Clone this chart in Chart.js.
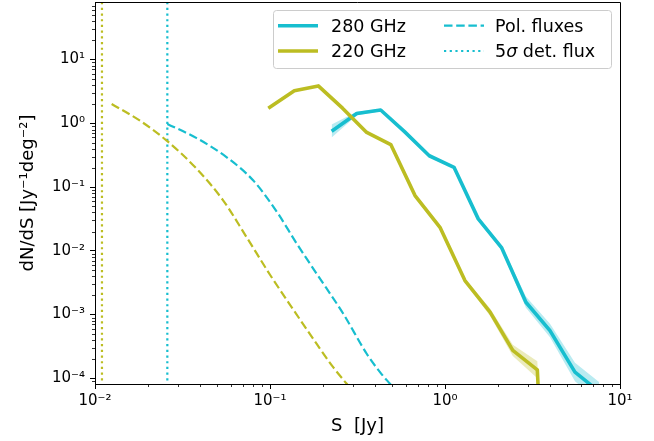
<!DOCTYPE html>
<html>
<head>
<meta charset="utf-8">
<script src="https://cdn.jsdelivr.net/npm/chart.js@4/dist/chart.umd.min.js"></script>
<style>
  html, body { margin:0; padding:0; background:#fff; }
  #wrap { width:654px; height:441px; }
</style>
</head>
<body>
<div id="wrap"><canvas id="countsChart" width="654" height="441"></canvas></div>
<script>
// ── Data ──────────────────────────────────────────────────
// 280 GHz measured counts, with shaded band
const S280    = [0.225, 0.313, 0.429, 0.587, 0.813, 1.126, 1.549, 2.11, 2.90, 3.98, 5.53, 7.59];
const N280    = [0.75, 1.43, 1.62, 0.74, 0.31, 0.204, 0.0317, 0.0111, 1.56e-3, 5.6e-4, 1.25e-4, 6.2e-5];
const N280_hi = [0.96, 1.52, 1.70, 0.78, 0.325, 0.212, 0.0340, 0.0121, 1.92e-3, 7.2e-4, 1.75e-4, 8.8e-5];
const N280_lo = [0.60, 1.33, 1.54, 0.70, 0.295, 0.196, 0.0295, 0.0101, 1.28e-3, 4.4e-4, 9.0e-5, 4.3e-5];

// 220 GHz measured counts (last bin is zero -> drops off the log axis)
const S220    = [0.0978, 0.1377, 0.1888, 0.2597, 0.357, 0.490, 0.674, 0.936, 1.30, 1.81, 2.44, 3.37, 4.64];
const N220    = [1.72, 3.25, 3.86, 1.73, 0.72, 0.464, 0.0736, 0.0234, 3.42e-3, 1.09e-3, 2.74e-4, 1.36e-4, 1e-12];
const N220_hi = [1.78, 3.35, 3.98, 1.79, 0.745, 0.478, 0.0765, 0.0246, 3.65e-3, 1.25e-3, 3.35e-4, 1.85e-4, 1e-12];
const N220_lo = [1.66, 3.15, 3.74, 1.67, 0.695, 0.450, 0.0708, 0.0222, 3.20e-3, 0.95e-3, 2.25e-4, 1.00e-4, 1e-12];

// polarised flux counts (dashed)
const SP280 = [0.0259, 0.0381, 0.0566, 0.0803, 0.1092, 0.1421, 0.1849, 0.2623, 0.3569, 0.4251, 0.485, 0.553];
const NP280 = [0.978, 0.586, 0.293, 0.1264, 0.0413, 0.0130, 4.36e-3, 1.03e-3, 2.43e-4, 1.25e-4, 8.2e-5, 5.4e-5];
const SP220 = [0.01245, 0.01807, 0.02569, 0.03812, 0.05408, 0.07358, 0.1, 0.1358, 0.1849, 0.229, 0.2744, 0.327];
const NP220 = [2.01, 1.10, 0.535, 0.193, 0.0614, 0.0163, 4.22e-3, 1.20e-3, 3.46e-4, 1.51e-4, 8.2e-5, 4.7e-5];

// 5 sigma detection flux (dotted verticals)
const DET280 = 0.0259;
const DET220 = 0.01096;

// axes
const X_RANGE = [0.01, 10];
const Y_RANGE = [8.15e-5, 80];
const xTicks = [0.01, 0.1, 1, 10];
const yTicks = [1e-4, 1e-3, 1e-2, 1e-1, 1, 10];

const C280 = '#17becf';
const C220 = '#bcbd22';
const FONT = "'DejaVu Sans', sans-serif";

// ── Helpers ───────────────────────────────────────────────
const SUP = {'-':'\u207B','0':'\u2070','1':'\u00B9','2':'\u00B2','3':'\u00B3','4':'\u2074','5':'\u2075','6':'\u2076','7':'\u2077','8':'\u2078','9':'\u2079'};
function powLabel(v) {
  const e = Math.round(Math.log10(v));
  return '10' + String(e).split('').map(c => SUP[c]).join('');
}
function minorTicks(lo, hi) {
  const out = [];
  for (let e = Math.floor(Math.log10(lo)); e <= Math.ceil(Math.log10(hi)); e++) {
    for (let k = 2; k <= 9; k++) {
      const v = k * Math.pow(10, e);
      if (v > lo && v < hi) out.push(v);
    }
  }
  return out;
}
const pts = (xs, ys) => xs.map((x, i) => ({x, y: ys[i]}));
const vline = x => [{x, y: 1e-6}, {x, y: 1e3}];

// ── Extras: top/right spines, minor ticks, legend ────────
const mplExtras = {
  id: 'mplExtras',
  afterDraw(chart) {
    const {ctx, chartArea: a, scales: {x, y}} = chart;
    ctx.save();
    ctx.strokeStyle = '#000';
    ctx.lineWidth = 1;
    ctx.beginPath();
    ctx.moveTo(a.left, Math.round(a.top) + 0.5);
    ctx.lineTo(Math.round(a.right) + 0.5, Math.round(a.top) + 0.5);
    ctx.lineTo(Math.round(a.right) + 0.5, a.bottom);
    ctx.stroke();

    ctx.lineWidth = 0.8;
    ctx.beginPath();
    minorTicks(X_RANGE[0], X_RANGE[1]).forEach(v => {
      const px = Math.round(x.getPixelForValue(v)) + 0.5;
      ctx.moveTo(px, a.bottom); ctx.lineTo(px, a.bottom + 3);
    });
    minorTicks(Y_RANGE[0], Y_RANGE[1]).forEach(v => {
      const py = Math.round(y.getPixelForValue(v)) + 0.5;
      ctx.moveTo(a.left, py); ctx.lineTo(a.left - 3, py);
    });
    ctx.stroke();

    // legend box
    const bx = 273.5, by = 10.5, bw = 338, bh = 58, r = 3;
    ctx.beginPath();
    ctx.roundRect(bx, by, bw, bh, r);
    ctx.fillStyle = 'rgba(255,255,255,0.8)';
    ctx.fill();
    ctx.strokeStyle = '#cccccc';
    ctx.lineWidth = 1;
    ctx.stroke();

    const lf = '17.5px ' + FONT;
    const items = [
      {label: '280 GHz', color: C280, lw: 3.6, dash: [],          hx: 278, tx: 331, hy: 25.7, ty: 31.7},
      {label: '220 GHz', color: C220, lw: 3.6, dash: [],          hx: 278, tx: 331, hy: 51,   ty: 57.2},
      {label: 'Pol. fluxes', color: C280, lw: 2.2, dash: [8.5, 3.7], hx: 444, tx: 495, hy: 25.7, ty: 31.7},
      {label: null,      color: C280, lw: 2.2, dash: [2.2, 3.5],  hx: 444, tx: 495, hy: 51,   ty: 57.2},
    ];
    items.forEach(it => {
      ctx.beginPath();
      ctx.setLineDash(it.dash);
      ctx.strokeStyle = it.color;
      ctx.lineWidth = it.lw;
      ctx.lineCap = 'butt';
      ctx.moveTo(it.hx, it.hy); ctx.lineTo(it.hx + 40, it.hy);
      ctx.stroke();
      ctx.setLineDash([]);
      ctx.fillStyle = '#000';
      ctx.textBaseline = 'alphabetic';
      ctx.textAlign = 'left';
      if (it.label) {
        ctx.font = lf;
        ctx.fillText(it.label, it.tx, it.ty);
      } else {
        // 5σ det. flux  (σ in italics, like mathtext)
        let cx = it.tx;
        ctx.font = lf;
        ctx.fillText('5', cx, it.ty); cx += ctx.measureText('5').width;
        ctx.font = 'italic ' + lf;
        ctx.fillText('\u03C3', cx, it.ty); cx += ctx.measureText('\u03C3').width;
        ctx.font = lf;
        ctx.fillText(' det. flux', cx, it.ty);
      }
    });
    ctx.restore();
  }
};

// ── Chart ─────────────────────────────────────────────────
const solid = (data, color) => ({
  data, borderColor: color, borderWidth: 3.6, pointRadius: 0, fill: false,
  borderJoinStyle: 'round', borderCapStyle: 'butt', tension: 0
});
const band = (data, color, fill) => ({
  data, borderWidth: 0, borderColor: 'rgba(0,0,0,0)', backgroundColor: color,
  pointRadius: 0, fill, tension: 0
});
const styled = (data, color, dash, mono) => ({
  data, borderColor: color, borderWidth: 2.2, borderDash: dash, borderCapStyle: 'butt',
  pointRadius: 0, fill: false, cubicInterpolationMode: mono ? 'monotone' : 'default'
});

const datasets = [
  band(pts(S280, N280_hi), 'rgba(23,190,207,0.3)', '+1'),
  band(pts(S280, N280_lo), 'rgba(23,190,207,0.3)', false),
  solid(pts(S280, N280), C280),
  styled(pts(SP280, NP280), C280, [8.5, 3.7], true),
  styled(vline(DET280), C280, [2.2, 3.5], false),
  band(pts(S220, N220_hi), 'rgba(188,189,34,0.3)', '+1'),
  band(pts(S220, N220_lo), 'rgba(188,189,34,0.3)', false),
  solid(pts(S220, N220), C220),
  styled(pts(SP220, NP220), C220, [8.5, 3.7], true),
  styled(vline(DET220), C220, [2.2, 3.5], false),
];
// first listed = drawn first (at the bottom)
datasets.forEach((d, i) => { d.order = datasets.length - i; });

const tickFont  = {family: FONT, size: 15};
const titleFont = {family: FONT, size: 18};

new Chart(document.getElementById('countsChart'), {
  type: 'scatter',
  data: { datasets: datasets.map(d => ({...d, showLine: true})) },
  options: {
    responsive: false, animation: false, devicePixelRatio: 1,
    layout: { padding: { top: 2, right: 34, left: 0, bottom: 0 } },
    plugins: { legend: {display: false}, tooltip: {enabled: false} },
    scales: {
      x: {
        type: 'logarithmic', min: X_RANGE[0], max: X_RANGE[1],
        afterBuildTicks: s => { s.ticks = xTicks.map(v => ({value: v})); },
        afterFit: s => { s.height = 57; s.paddingLeft = 0; s.paddingRight = 0; },
        grid: { drawOnChartArea: false, tickLength: 5, tickColor: '#000', tickWidth: 1 },
        border: { color: '#000', width: 1 },
        ticks: { autoSkip: false, maxRotation: 0, padding: 3, color: '#000', font: tickFont, callback: v => powLabel(v) },
        title: { display: true, text: 'S  [Jy]', color: '#000', font: titleFont, padding: {top: 0, bottom: 4} }
      },
      y: {
        type: 'logarithmic', min: Y_RANGE[0], max: Y_RANGE[1],
        afterBuildTicks: s => { s.ticks = yTicks.map(v => ({value: v})); },
        afterFit: s => { s.width = 95; s.paddingTop = 0; s.paddingBottom = 0; },
        grid: { drawOnChartArea: false, tickLength: 5, tickColor: '#000', tickWidth: 1 },
        border: { color: '#000', width: 1 },
        ticks: { autoSkip: false, padding: 5, color: '#000', font: tickFont, callback: v => powLabel(v) },
        title: { display: true, text: 'dN/dS [Jy\u207B\u00B9deg\u207B\u00B2]', color: '#000', font: titleFont, padding: {top: 18, bottom: 0} }
      }
    }
  },
  plugins: [mplExtras]
});
</script>
</body>
</html>
